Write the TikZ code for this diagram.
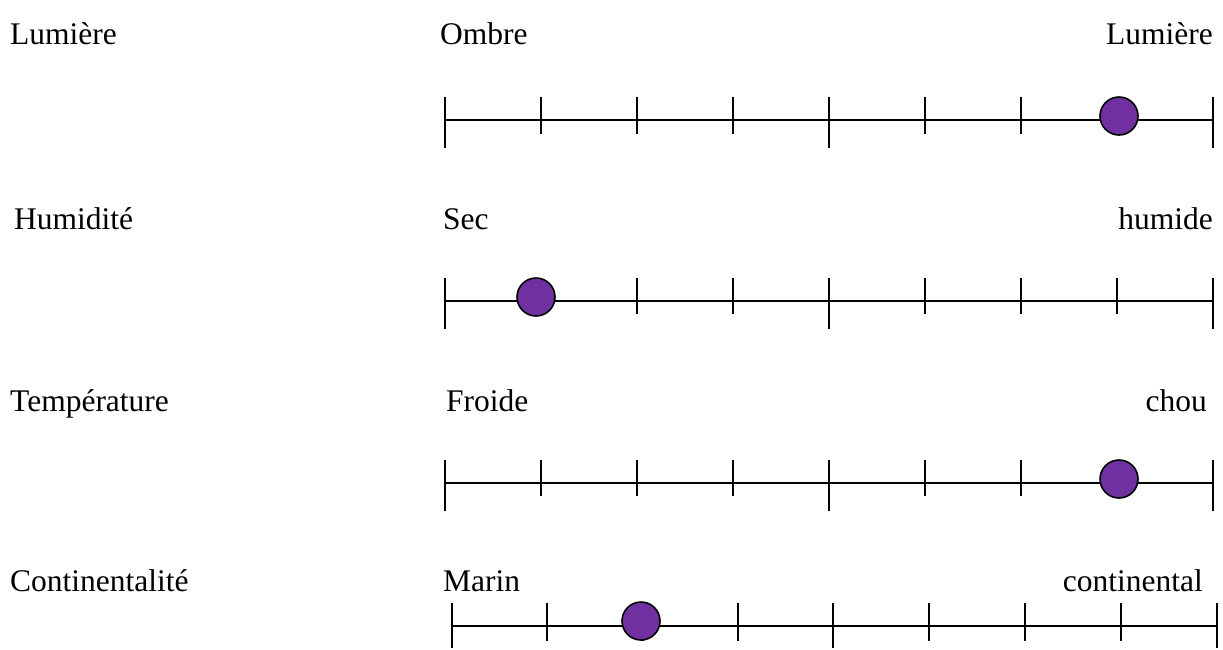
\documentclass[tikz,border=0pt]{standalone}
\usepackage{fontspec}
\setmainfont{Liberation Serif}
\definecolor{dotpurple}{HTML}{7030A0}
\begin{document}
\begin{tikzpicture}[x=1pt,y=-1pt,
  lbl/.style={inner sep=0pt,font=\fontsize{31.5}{36}\selectfont},
  axisline/.style={line width=1.6pt,black},
  dot/.style={circle,draw=black,line width=1.6pt,fill=dotpurple,minimum size=38pt,inner sep=0pt}]
\useasboundingbox (0,0) rectangle (1223,649);
% ---------- row 1
\node[lbl,anchor=base west] (t1) at (10,44) {Lumière};
\node[lbl,anchor=base west] (l1) at (440,44) {Ombre};
\node[lbl,anchor=base east] (r1) at (1213,44) {Lumière};
\coordinate (a1s) at (445,120);
\coordinate (a1e) at (1213,120);
\draw[axisline] (a1s) -- (a1e);
\foreach \k in {0,...,8}{
  \pgfmathsetmacro{\xx}{445+96*\k}
  \ifnum\k=0 \def\bb{148}\else\ifnum\k=4 \def\bb{148}\else\ifnum\k=8 \def\bb{148}\else\def\bb{134}\fi\fi\fi
  \draw[axisline] (\xx,97) -- (\xx,\bb);
}
\node[dot] (d1) at (1119,116) {};
% ---------- row 2
\node[lbl,anchor=base west] (t2) at (14,229) {Humidité};
\node[lbl,anchor=base west] (l2) at (443,229) {Sec};
\node[lbl,anchor=base east] (r2) at (1213,229) {humide};
\coordinate (a2s) at (445,301);
\coordinate (a2e) at (1213,301);
\draw[axisline] (a2s) -- (a2e);
\foreach \k in {0,...,8}{
  \pgfmathsetmacro{\xx}{445+96*\k}
  \ifnum\k=0 \def\bb{329}\else\ifnum\k=4 \def\bb{329}\else\ifnum\k=8 \def\bb{329}\else\def\bb{314}\fi\fi\fi
  \draw[axisline] (\xx,278) -- (\xx,\bb);
}
\node[dot] (d2) at (536,297) {};
% ---------- row 3
\node[lbl,anchor=base west] (t3) at (10,411) {Température};
\node[lbl,anchor=base west] (l3) at (446,411) {Froide};
\node[lbl,anchor=base east] (r3) at (1207,411) {chou};
\coordinate (a3s) at (445,483);
\coordinate (a3e) at (1213,483);
\draw[axisline] (a3s) -- (a3e);
\foreach \k in {0,...,8}{
  \pgfmathsetmacro{\xx}{445+96*\k}
  \ifnum\k=0 \def\bb{511}\else\ifnum\k=4 \def\bb{511}\else\ifnum\k=8 \def\bb{511}\else\def\bb{496}\fi\fi\fi
  \draw[axisline] (\xx,460) -- (\xx,\bb);
}
\node[dot] (d3) at (1119,479) {};
% ---------- row 4
\node[lbl,anchor=base west] (t4) at (10,591) {Continentalité};
\node[lbl,anchor=base west] (l4) at (443,591) {Marin};
\node[lbl,anchor=base east] (r4) at (1203,591) {continental};
\coordinate (a4s) at (452,626);
\coordinate (a4e) at (1217,626);
\draw[axisline] (a4s) -- (a4e);
\foreach \xx/\bb in {452/648,547/641,643/641,738/641,833/648,929/641,1025/641,1121/641,1217/648}{
  \draw[axisline] (\xx,603) -- (\xx,\bb);
}
\node[dot] (d4) at (641,621) {};
\end{tikzpicture}
\end{document}
